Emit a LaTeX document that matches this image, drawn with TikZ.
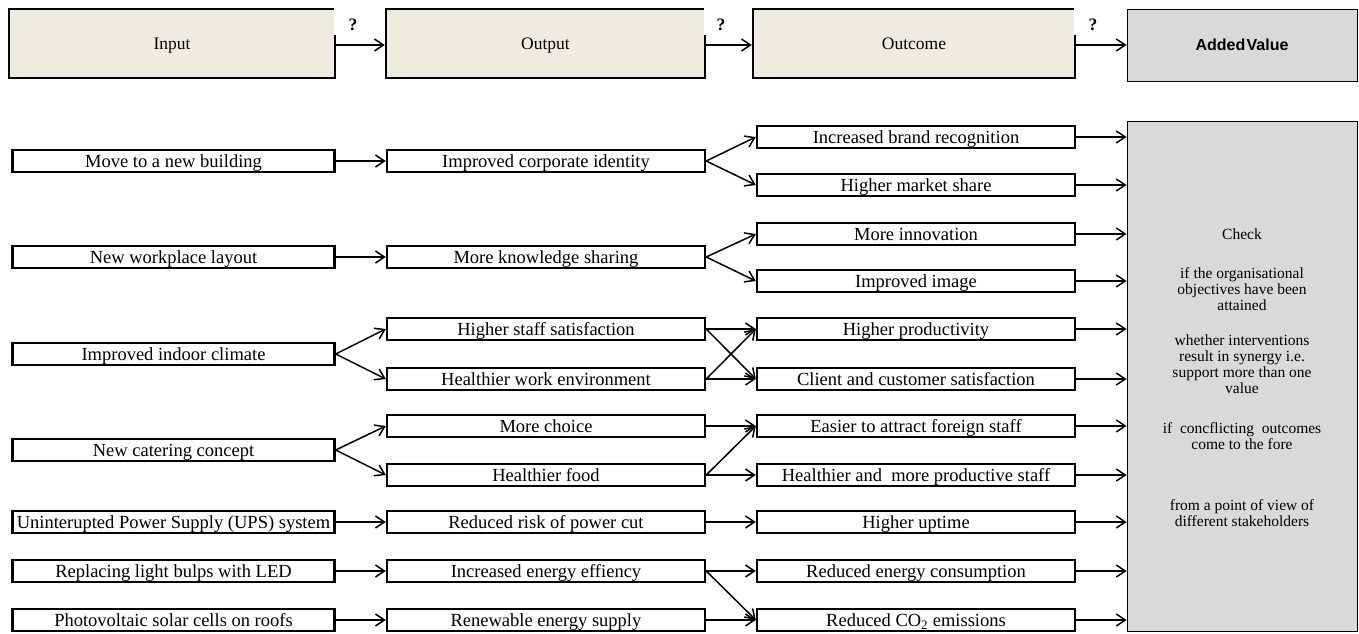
\documentclass[tikz,border=0pt]{standalone}
\usepackage{fontspec}
\setmainfont{Liberation Serif}
\newfontfamily\avfont{Liberation Sans}
\usetikzlibrary{arrows.meta}
\definecolor{beige}{HTML}{EEECE1}
\definecolor{panelgray}{HTML}{D9D9D9}
\begin{document}
\begin{tikzpicture}[x=1pt,y=-1pt,
 rowbox/.style={draw, line width=2.4pt, fill=white, minimum height=22pt, inner sep=0pt, text height=14.5pt, text depth=1pt, font=\fontsize{18.5}{20}\selectfont},
 inbox/.style={rowbox, minimum width=322pt},
 outbox/.style={rowbox, minimum width=318pt},
 topbox/.style={draw, line width=2.4pt, fill=beige, minimum height=69pt, inner sep=0pt, text height=14pt, text depth=1pt, font=\fontsize{17.5}{20}\selectfont},
 link/.style={line width=1.5pt, -{Straight Barb[length=9pt,width=12pt]}},
 qmark/.style={inner sep=0pt, font=\bfseries\fontsize{17.5}{20}\selectfont},
 checktext/.style={align=center, inner sep=0pt, font=\fontsize{15.5}{16}\selectfont}
]
\useasboundingbox (0,0) rectangle (1359,634);

% top row
\node[topbox, minimum width=326pt] (tin) at (172,43.5) {Input};
\node[topbox, minimum width=319pt] (tout) at (545.5,43.5) {Output};
\node[topbox, minimum width=322pt] (toc) at (914,43.5) {Outcome};
\node[draw, line width=0.8pt, fill=panelgray, minimum width=230pt, minimum height=72pt, inner sep=0pt,
      text height=13pt, text depth=1pt,
      font=\avfont\bfseries\fontsize{16}{19}\selectfont] (tav) at (1242,45) {Added\hspace{0.08em}Value};
\fill[white] (tin.east) ++(-2,-39) rectangle ++(38,31);
\fill[white] (tout.east) ++(-2,-39) rectangle ++(38,31);
\fill[white] (toc.east) ++(-2,-39) rectangle ++(38,31);
\node[qmark] (q1) at (353,25) {?};
\node[qmark] (q2) at (721,25) {?};
\node[qmark] (q3) at (1093,25) {?};
\draw[link] (tin.east |- 0,45) -- (tout.west |- 0,45);
\draw[link] (tout.east |- 0,45) -- (toc.west |- 0,45);
\draw[link] (toc.east |- 0,45) -- (tav.west |- 0,45);

% check panel
\node[draw, line width=0.8pt, fill=panelgray, minimum width=230pt, minimum height=510pt, inner sep=0pt] (check) at (1242,376) {};
\node[checktext] (c1) at (1242,234) {Check};
\node[checktext] (c2) at (1242,289.5) {if the organisational\\objectives have been\\attained};
\node[checktext] (c3) at (1242,364.5) {whether interventions\\result in synergy i.e.\\support more than one\\value};
\node[checktext] (c4) at (1242,436) {if\ \ concflicting\ \ outcomes\\come to the fore};
\node[checktext] (c5) at (1242,513.5) {from a point\ of view of\\different stakeholders};

% input column
\node[inbox] (i1) at (173.5,161) {Move to a new building};
\node[inbox] (i2) at (173.5,257) {New workplace layout};
\node[inbox] (i3) at (173.5,354) {Improved indoor climate};
\node[inbox] (i4) at (173.5,450) {New catering concept};
\node[inbox] (i5) at (173.5,522) {Uninterupted Power Supply (UPS) system};
\node[inbox] (i6) at (173.5,571) {Replacing light bulps with LED};
\node[inbox] (i7) at (173.5,620) {Photovoltaic solar cells on roofs};

% output column
\node[outbox] (o1) at (546,161) {Improved corporate identity};
\node[outbox] (o2) at (546,257) {More knowledge sharing};
\node[outbox] (o3) at (546,329) {Higher staff satisfaction};
\node[outbox] (o4) at (546,379) {Healthier work environment};
\node[outbox] (o5) at (546,426) {More choice};
\node[outbox] (o6) at (546,475) {Healthier food};
\node[outbox] (o7) at (546,522) {Reduced risk of power cut};
\node[outbox] (o8) at (546,571) {Increased energy effiency};
\node[outbox] (o9) at (546,620) {Renewable energy supply};

% outcome column
\node[outbox] (u1) at (916,137) {Increased brand recognition};
\node[outbox] (u2) at (916,185) {Higher market share};
\node[outbox] (u3) at (916,234) {More innovation};
\node[outbox] (u4) at (916,281) {Improved image};
\node[outbox] (u5) at (916,329) {Higher productivity};
\node[outbox] (u6) at (916,379) {Client and customer satisfaction};
\node[outbox] (u7) at (916,426) {Easier to attract foreign staff};
\node[outbox] (u8) at (916,475) {Healthier and\ \ more productive staff};
\node[outbox] (u9) at (916,522) {Higher uptime};
\node[outbox] (u10) at (916,571) {Reduced energy consumption};
\node[outbox] (u11) at (916,620) {Reduced CO\textsubscript{2} emissions};

% input -> output
\draw[link] (i1.east) -- (o1.west);
\draw[link] (i2.east) -- (o2.west);
\draw[link] (i3.east) -- (o3.west);
\draw[link] (i3.east) -- (o4.west);
\draw[link] (i4.east) -- (o5.west);
\draw[link] (i4.east) -- (o6.west);
\draw[link] (i5.east) -- (o7.west);
\draw[link] (i6.east) -- (o8.west);
\draw[link] (i7.east) -- (o9.west);

% output -> outcome
\draw[link] (o1.east) -- (u1.west);
\draw[link] (o1.east) -- (u2.west);
\draw[link] (o2.east) -- (u3.west);
\draw[link] (o2.east) -- (u4.west);
\draw[link] (o3.east) -- (u5.west);
\draw[link] (o3.east) -- (u6.west);
\draw[link] (o4.east) -- (u5.west);
\draw[link] (o4.east) -- (u6.west);
\draw[link] (o5.east) -- (u7.west);
\draw[link] (o6.east) -- (u7.west);
\draw[link] (o6.east) -- (u8.west);
\draw[link] (o7.east) -- (u9.west);
\draw[link] (o8.east) -- (u10.west);
\draw[link] (o8.east) -- (u11.west);
\draw[link] (o9.east) -- (u11.west);

% outcome -> check
\foreach \k in {1,...,11} {
  \draw[link] (u\k.east) -- (u\k.east -| check.west);
}
\end{tikzpicture}
\end{document}
